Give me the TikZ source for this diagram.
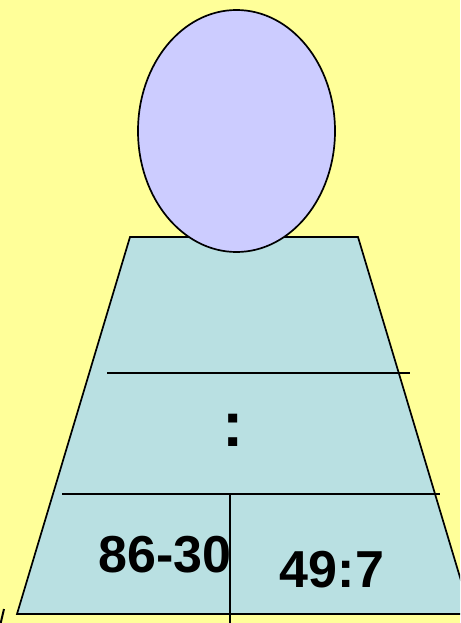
\documentclass[tikz,border=0pt]{standalone}
\usepackage{fontspec}
\setmainfont{Liberation Sans}
\usetikzlibrary{shapes.geometric}
\begin{document}
\begin{tikzpicture}[x=1pt,y=-1pt,
  outline/.style={draw=black,line width=1.7pt},
  rule/.style={draw=black,line width=1.6pt},
  bigtext/.style={font=\fontsize{52}{52}\selectfont\bfseries,inner sep=0pt,anchor=base}]
\useasboundingbox (0,0) rectangle (460,623);
\clip (0,0) rectangle (460,623);
\fill[fill={rgb,255:red,255;green,255;blue,153}] (0,0) rectangle (460,623);
% trapezoid body
\path[outline,fill={rgb,255:red,185;green,224;blue,226}] (130,237) -- (358,237) -- (471,614) -- (17,614) -- cycle;
% head
\node[outline,ellipse,fill={rgb,255:red,204;green,204;blue,255},minimum width=197pt,minimum height=242pt,inner sep=0pt] (head) at (236.5,131) {};
% rules
\coordinate (r1a) at (107,373); \coordinate (r1b) at (410,373);
\coordinate (r2a) at (62,494); \coordinate (r2b) at (440,494);
\coordinate (va) at (230,494); \coordinate (vb) at (230,623);
\draw[rule] (r1a) -- (r1b);
\draw[rule] (r2a) -- (r2b);
\draw[rule] (va) -- (vb);
% texts
\node[bigtext,font=\fontsize{64}{64}\selectfont\bfseries] (colon) at (233,446) {:};
\node[bigtext] (left) at (165,572) {86-30};
\node[bigtext] (right) at (332,587) {49:7};
% small edge at bottom-left corner
\coordinate (e1) at (0,626); \coordinate (e2) at (4,609);
\draw[rule,line width=2pt] (e1) -- (e2);
\end{tikzpicture}
\end{document}
